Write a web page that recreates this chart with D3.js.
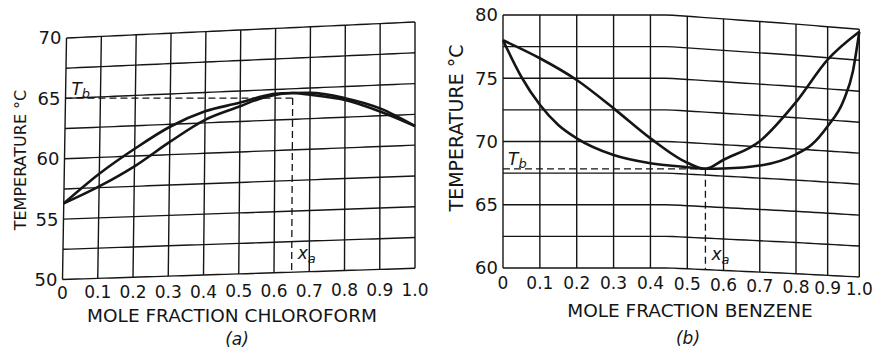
<!DOCTYPE html>
<html><head><meta charset="utf-8">
<script src="https://cdn.jsdelivr.net/npm/d3@7"></script>
<style>
html,body{margin:0;padding:0;background:#fff;}
svg{display:block;}
text{font-family:"DejaVu Sans",sans-serif;fill:#151515;}
</style></head><body>
<svg id="chart" width="873" height="349"></svg>
<script>
// ---------- shared ----------
const xTicks = [0,0.1,0.2,0.3,0.4,0.5,0.6,0.7,0.8,0.9,1.0];
const xTickLabels = ["0","0.1","0.2","0.3","0.4","0.5","0.6","0.7","0.8","0.9","1.0"];

// ---------- panel (a): chloroform ----------
const xA = [0,0.1,0.2,0.3,0.4,0.5,0.55,0.6,0.65,0.7,0.8,0.9,1.0];
const vapourA = [56.3,58.65,60.6,62.3,63.45,64.05,64.4,64.65,64.65,64.6,64.05,63.1,61.55];
const liquidA = [56.3,57.6,59.15,61.05,62.75,63.75,64.25,64.55,64.65,64.45,63.9,62.85,61.55];
const azeotropeA = [0.65, 64.65];
const yTicksA = [50,55,60,65,70];
const gridTA = [50,52.5,55,57.5,60,62.5,65,67.5,70];

// ---------- panel (b): benzene ----------
const xBLiquid = [0,0.05,0.1,0.15,0.2,0.3,0.4,0.5,0.55,0.6,0.7,0.8,0.85,0.9,0.95,0.98,1.0];
const liquidB = [78.0,75.1,72.9,71.3,70.25,68.93,68.28,68.05,68.0,68.1,68.5,69.57,70.44,72.0,74.14,76.6,79.8];
const xBVapour = [0,0.1,0.2,0.3,0.4,0.5,0.55,0.6,0.7,0.8,0.9,1.0];
const vapourB = [78.0,76.58,74.86,72.62,70.25,68.4,68.0,68.8,70.45,73.75,77.35,79.8];
const azeotropeB = [0.55, 68.0];
const yTicksB = [60,65,70,75,80];
const gridTB = [60,62.5,65,67.5,70,72.5,75,77.5,80];

const svg = d3.select("#chart");
const ink = "#151515";

function panel(cfg) {
  const g = svg.append("g");
  const {xs, ys, warp} = cfg;
  const [Tmin, Tmax] = ys.domain();
  const P = (x, T) => { const w = warp(x, T); return [xs(x) + w[0], ys(T) + w[1]]; };
  const line = d3.line();
  const fine = d3.range(0, 1.0001, 0.02);

  // horizontal grid
  cfg.gridT.forEach(T => {
    g.append("path").attr("d", line(fine.map(x => P(x, T))))
      .attr("fill","none").attr("stroke",ink).attr("stroke-width", 1.4);
  });
  // vertical grid
  xTicks.forEach(x => {
    g.append("path").attr("d", line(d3.range(Tmin, Tmax + 0.01, 2.5).map(T => P(x, T))))
      .attr("fill","none").attr("stroke",ink).attr("stroke-width", 1.4);
  });

  // dashed drop lines
  const az = P(cfg.azeo[0], cfg.azeo[1]);
  const left = P(0, cfg.azeo[1]);
  const bot = P(cfg.azeo[0], Tmin);
  g.append("line").attr("x1", left[0]).attr("x2", az[0]).attr("y1", az[1] + cfg.dashOff).attr("y2", az[1] + cfg.dashOff)
    .attr("stroke",ink).attr("stroke-width",1.3).attr("stroke-dasharray","7,4");
  g.append("line").attr("x1", az[0]).attr("x2", bot[0]).attr("y1", az[1] + cfg.dashOff).attr("y2", bot[1])
    .attr("stroke",ink).attr("stroke-width",1.3).attr("stroke-dasharray","7,4");

  // curves
  const curve = d3.line().curve(d3.curveMonotoneX);
  cfg.series.forEach(s => {
    g.append("path").attr("d", curve(s.x.map((x, i) => P(x, s.T[i]))))
      .attr("fill","none").attr("stroke",ink).attr("stroke-width", 2.6).attr("stroke-linejoin","round");
  });

  // y tick labels
  cfg.yTicks.forEach(T => {
    const p = P(0, T);
    g.append("text").attr("x", p[0] - 5).attr("y", p[1]).attr("dy","0.36em")
      .attr("text-anchor","end").attr("font-size", 18).text(T);
  });
  // x tick labels
  xTicks.forEach((x, i) => {
    const p = P(x, Tmin);
    const p0 = P(0, Tmin);
    g.append("text").attr("x", p[0] + (i === 10 ? cfg.lastShift : 0))
      .attr("y", p0[1] + cfg.xLabOff + cfg.xLabSlope * (p[1] - p0[1])).attr("dy","0.36em")
      .attr("text-anchor","middle").attr("font-size", 17).text(xTickLabels[i]);
  });

  // axis titles
  g.append("text").attr("x", cfg.xTitle[0]).attr("y", cfg.xTitle[1]).attr("dy","0.36em")
    .attr("text-anchor","middle").attr("font-size", 18.5).text(cfg.xTitleText);
  g.append("text").attr("transform", `translate(${cfg.yTitle[0]},${cfg.yTitle[1]}) rotate(-90)`).attr("dy","0.36em")
    .attr("text-anchor","middle").attr("font-size", cfg.yTitleSize).text("TEMPERATURE °C");
  g.append("text").attr("x", cfg.tag[0]).attr("y", cfg.tag[1]).attr("dy","0.36em")
    .attr("text-anchor","middle").attr("font-size", 17).attr("font-style","italic").text(cfg.tagText);

  // T_b label
  const tb = g.append("text").attr("x", left[0] + cfg.tbOff[0]).attr("y", az[1] + cfg.dashOff + cfg.tbOff[1])
    .attr("font-size", 17).attr("font-style","italic");
  tb.append("tspan").text("T");
  tb.append("tspan").attr("font-size", 13).attr("dy", 3).text("b");
  // x_a label
  const xa = g.append("text").attr("x", bot[0] + 6).attr("y", bot[1] + cfg.xaOff)
    .attr("font-size", 17).attr("font-style","italic");
  xa.append("tspan").text("x");
  xa.append("tspan").attr("font-size", 13).attr("dy", 4).text("a");
}

panel({
  xs: d3.scaleLinear().domain([0,1]).range([62.5,415]),
  ys: d3.scaleLinear().domain([50,70]).range([279.5,38]),
  warp: (x, T) => [4 * (1 - x) * (T - 50) / 20, x * (-11.2 - 4.8 * (T - 50) / 20)],
  gridT: gridTA, yTicks: yTicksA, azeo: azeotropeA, dashOff: 5,
  series: [{x: xA, T: vapourA}, {x: xA, T: liquidA}],
  xLabOff: 13, xLabSlope: 0.25, lastShift: 0,
  xTitle: [232, 315], xTitleText: "MOLE FRACTION CHLOROFORM",
  yTitle: [20, 160], yTitleSize: 16,
  tag: [237, 339], tagText: "(a)",
  tbOff: [6, -3], xaOff: -13
});

panel({
  xs: d3.scaleLinear().domain([0,0.5,0.8,1]).range([503,687.3,796,859.3]),
  ys: d3.scaleLinear().domain([60,80]).range([268,15]),
  warp: (x, T) => { const r = Math.max(0, (x - 0.45) / 0.55); return [0, r * (9 + 5.3 * (T - 60) / 20)]; },
  gridT: gridTB, yTicks: yTicksB, azeo: azeotropeB, dashOff: 0,
  series: [{x: xBVapour, T: vapourB}, {x: xBLiquid, T: liquidB}],
  xLabOff: 15, xLabSlope: 0.6, lastShift: 0,
  xTitle: [690, 310], xTitleText: "MOLE FRACTION BENZENE",
  yTitle: [456, 128], yTitleSize: 19,
  tag: [688, 338], tagText: "(b)",
  tbOff: [5, -4], xaOff: -10
});
</script>
</body></html>
